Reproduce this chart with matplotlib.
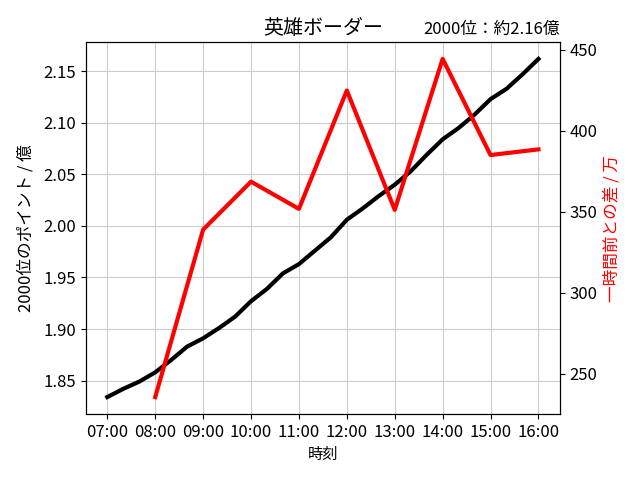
import matplotlib
matplotlib.use("Agg")
import matplotlib.pyplot as plt

plt.rcParams['font.family'] = ['Noto Sans CJK JP', 'DejaVu Sans']
plt.rcParams['font.size'] = 12

# black series: 2000th place points (億), every 20 minutes
times = ["07:00", "07:20", "07:40", "08:00", "08:20", "08:40",
         "09:00", "09:20", "09:40", "10:00", "10:20", "10:40",
         "11:00", "11:20", "11:40", "12:00", "12:20", "12:40",
         "13:00", "13:20", "13:40", "14:00", "14:20", "14:40",
         "15:00", "15:20", "15:40", "16:00"]
points = [1.834, 1.842, 1.849, 1.858, 1.870, 1.883,
          1.891, 1.901, 1.912, 1.927, 1.939, 1.954,
          1.963, 1.976, 1.989, 2.006, 2.017, 2.029,
          2.040, 2.053, 2.069, 2.084, 2.095, 2.108,
          2.123, 2.133, 2.147, 2.162]

# red series: difference from one hour before (万)
diff_times = ["08:00", "09:00", "10:00", "11:00", "12:00",
              "13:00", "14:00", "15:00", "16:00"]
diffs = [235.7, 339.0, 368.6, 351.8, 424.8, 351.2, 444.3, 385.0, 388.5]

tick_labels = ["07:00", "08:00", "09:00", "10:00", "11:00",
               "12:00", "13:00", "14:00", "15:00", "16:00"]


def to_hours(s):
    h, m = s.split(":")
    return int(h) + int(m) / 60.0


x1 = [to_hours(t) for t in times]
x2 = [to_hours(t) for t in diff_times]
xt = [to_hours(t) for t in tick_labels]

fig = plt.figure(figsize=(6.4, 4.8), dpi=100)
ax = fig.add_subplot(111)
fig.subplots_adjust(left=0.134, right=0.875, top=0.9125, bottom=0.1375)

ax.plot(x1, points, color='black', linewidth=3)
ax.set_xticks(xt)
ax.set_xticklabels(tick_labels)
ax.grid(True, color='#cccccc')
ax.set_xlabel("時刻", fontsize=11)
ax.set_ylabel("2000位のポイント / 億", fontsize=12, labelpad=6)
ax.set_title("英雄ボーダー", fontsize=14.4)
ax.set_title("2000位：約2.16億", loc='right', fontsize=12)

ax2 = ax.twinx()
ax2.plot(x2, diffs, color='red', linewidth=3)
ax2.set_ylabel("一時間前との差 / 万", color='red', fontsize=12)

fig.savefig("out.png", dpi=100)
